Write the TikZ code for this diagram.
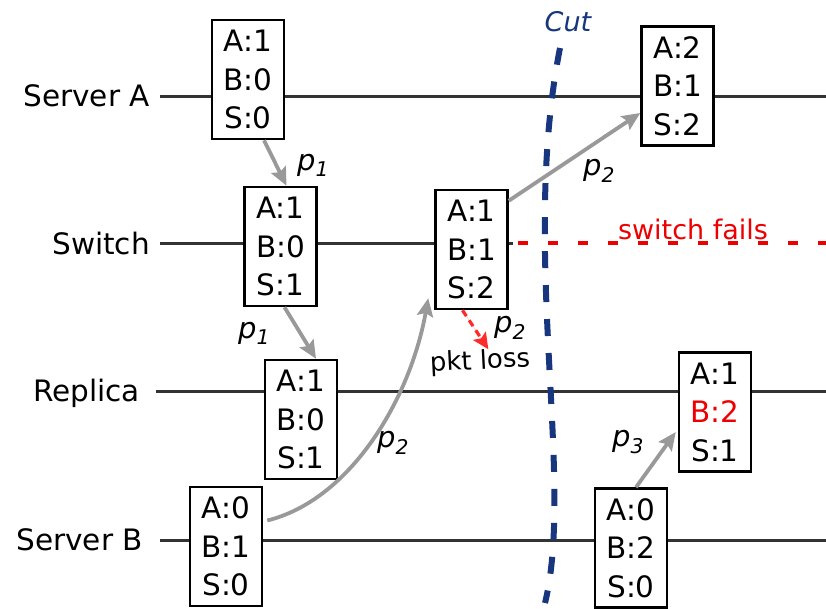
\documentclass[tikz,border=0pt]{standalone}
\usepackage{fontspec}
\setmainfont{DejaVu Sans}
\usetikzlibrary{arrows.meta,backgrounds}
\definecolor{lanegray}{HTML}{333333}
\definecolor{msggray}{HTML}{999999}
\definecolor{cutblue}{HTML}{17367D}
\definecolor{failred}{HTML}{EE0000}
\definecolor{lossred}{HTML}{FF2A2A}
\newcommand{\pk}[1]{\textit{p}\textsubscript{\itshape #1}}
\tikzset{
  vcbox/.style={rectangle, draw=black, line width=2.5pt, fill=white, inner sep=0pt,
                minimum width=72pt, minimum height=119pt, align=center,
                font=\fontsize{29.5}{38.5}\selectfont},
  lane/.style={font=\fontsize{29.5}{35}\selectfont, inner sep=0pt, anchor=east},
  laneline/.style={draw=lanegray, line width=3pt},
  arr/.style={-{Stealth[length=18pt,width=16pt,inset=3pt]}, line width=3.8pt, draw=msggray},
  lossarr/.style={-{Stealth[length=16pt,width=15pt,inset=3pt]}, line width=3.2pt, draw=lossred,
                  fill=lossred, dash pattern=on 7pt off 5pt},
  lbl/.style={font=\fontsize{29}{35}\selectfont, inner sep=0pt},
  cutline/.style={draw=cutblue, line width=6pt, dash pattern=on 17pt off 17pt},
}
\begin{document}
\begin{tikzpicture}[x=1pt, y=-1pt]
    \path[use as bounding box] (0,0) rectangle (826,608);
    % Processus
    \node[lane] (lSA) at (150,96) {Server A};
    \node[lane] (lSw) at (150,243) {Switch};
    \node[lane] (lRep) at (140,393) {Replica};
    \node[lane] (lSB) at (143,540) {Server B};
    \coordinate (eSA) at (826,96);
    \coordinate (swEnd) at (513,243);
    \coordinate (failEnd) at (826,243);
    \coordinate (eRep) at (826,391);
    \coordinate (eSB) at (826,540);
    % Horloges
    \node[vcbox] (a1) at (248,79.5) {A:1\\B:0\\S:0};
    \node[vcbox] (s1) at (280.5,246.5) {A:1\\B:0\\S:1};
    \node[vcbox] (s2) at (471.5,249.5) {A:1\\B:1\\S:2};
    \node[vcbox] (a2) at (677.5,86) {A:2\\B:1\\S:2};
    \node[vcbox] (r1) at (301,419.5) {A:1\\B:0\\S:1};
    \node[vcbox] (sb1) at (226,546.5) {A:0\\B:1\\S:0};
    \node[vcbox] (r2) at (715,412) {A:1\\{\color{failred}B:2}\\S:1};
    \node[vcbox] (sb2) at (631,548) {A:0\\B:2\\S:0};
    % Textes
    \node[font=\fontsize{27}{32}\selectfont\itshape, text=cutblue, inner sep=0pt] (cutlbl) at (568,22) {Cut};
    \node[font=\fontsize{27}{32}\selectfont, text=failred, inner sep=0pt] (fails) at (693,229) {switch fails};
    \node[font=\fontsize{26}{30}\selectfont, inner sep=0pt, rotate=3] (loss) at (480,362) {pkt loss};
    \node[lbl] (p1a) at (313,165) {\pk{1}};
    \node[lbl] (p1b) at (254,333) {\pk{1}};
    \node[lbl] (p2a) at (393,443) {\pk{2}};
    \node[lbl] (p2b) at (599,171) {\pk{2}};
    \node[lbl] (p2c) at (510,328) {\pk{2}};
    \node[lbl] (p3) at (628,442) {\pk{3}};
    % Lignes de temps
    \begin{pgfonlayer}{background}
      \fill[white] (0,0) rectangle (826,608);
      \draw[laneline] ([xshift=10pt]lSA.east) -- (eSA);
      \draw[laneline] ([xshift=10pt]lSw.east) -- (swEnd);
      \draw[draw=failred, line width=4.5pt, dash pattern=on 10pt off 20pt, dash phase=25pt] (swEnd) -- (failEnd);
      \draw[laneline] ([xshift=16pt]lRep.east |- eRep) -- (eRep);
      \draw[laneline] ([xshift=17pt]lSB.east) -- (eSB);
      \coordinate (cutTop) at (560,48);
      \coordinate (cutBot) at (545,603);
      \draw[cutline] (cutTop) .. controls (520,250) and (575,480) .. (cutBot);
    \end{pgfonlayer}
    % Messages
    \draw[arr] ([xshift=16pt]a1.south) -- ([xshift=6pt]s1.north);
    \draw[arr] ([xshift=4pt]s1.south) -- ([xshift=15pt]r1.north);
    \draw[arr] ([xshift=4pt,yshift=26pt]sb1.east) .. controls (350,500) and (410,400) .. ([xshift=-6pt,yshift=12pt]s2.south west);
    \draw[arr] ([yshift=-12pt]s2.north east) -- ([yshift=-27pt]a2.west);
    \draw[lossarr] ([xshift=-9pt]s2.south) -- ([xshift=9pt]loss.north);
    \draw[arr] ([xshift=5pt]sb2.north) -- ([xshift=-2pt,yshift=-20pt]r2.west);
  \end{tikzpicture}
\end{document}
